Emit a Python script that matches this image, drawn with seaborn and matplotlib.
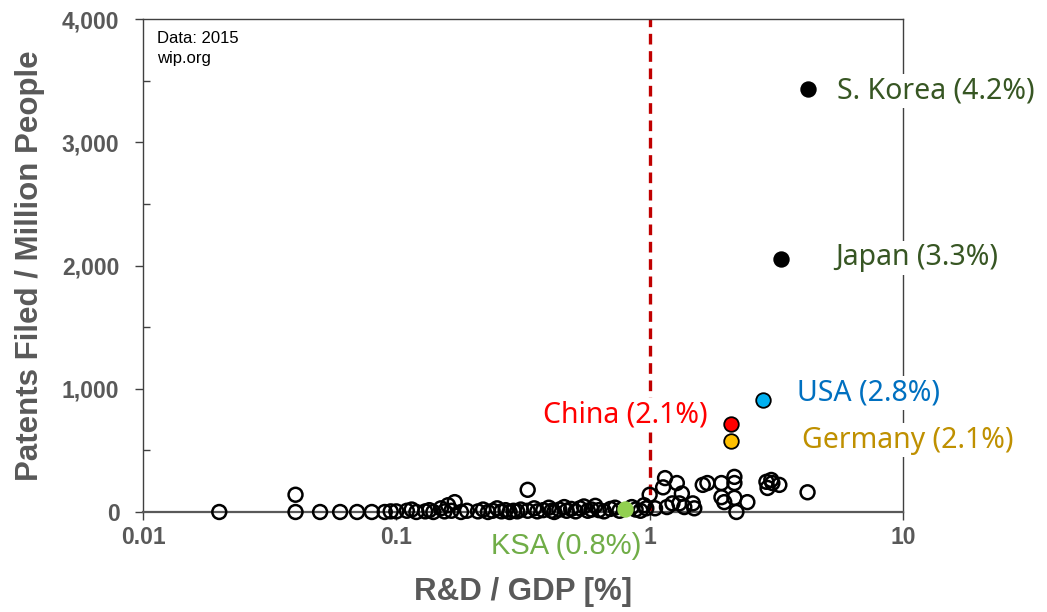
import matplotlib
matplotlib.use("Agg")
import matplotlib.pyplot as plt
import pandas as pd
import seaborn as sns
from matplotlib.ticker import FixedLocator, FuncFormatter, MultipleLocator, NullLocator

# R&D spending (% of GDP) and patents filed per million people, all other countries
other_rd = [
    0.02, 0.04, 0.04, 0.05, 0.06, 0.07, 0.08, 0.09, 0.095, 0.10, 0.11, 0.115,
    0.12, 0.13, 0.135, 0.14, 0.15, 0.155, 0.16, 0.165, 0.17, 0.18, 0.19, 0.21,
    0.22, 0.23, 0.24, 0.25, 0.26, 0.27, 0.28, 0.29, 0.30, 0.31, 0.33, 0.33,
    0.35, 0.36, 0.38, 0.40, 0.41, 0.42, 0.44, 0.46, 0.47, 0.49, 0.51, 0.53,
    0.55, 0.57, 0.59, 0.61, 0.63, 0.66, 0.70, 0.73, 0.76, 0.85, 0.88, 0.92,
    0.95, 0.97, 1.00, 1.05, 1.13, 1.15, 1.17, 1.23, 1.28, 1.31, 1.34, 1.37,
    1.48, 1.50, 1.62, 1.69, 1.92, 1.92, 1.97, 2.16, 2.16, 2.16, 2.20, 2.43,
    2.89, 2.92, 3.02, 3.05, 3.25, 4.20,
]
other_patents = [
    0, 0, 140, 0, 0, 0, 0, 0, 5, 5, 10, 20,
    0, 5, 15, 0, 30, 5, 55, 10, 80, 0, 10, 5,
    20, 0, 10, 30, 5, 15, 0, 10, 5, 20, 180, 10,
    30, 5, 15, 35, 10, 0, 20, 40, 10, 25, 5, 30,
    45, 10, 20, 50, 15, 5, 25, 35, 10, 40, 20, 10,
    55, 30, 140, 30, 200, 275, 40, 70, 235, 70, 150, 40,
    70, 30, 220, 235, 235, 120, 80, 285, 235, 115, 0, 80,
    245, 195, 260, 235, 220, 160,
]

# Highlighted countries
hl_names = ["S. Korea", "Japan", "USA", "Germany", "China", "KSA"]
hl_rd = [4.2, 3.3, 2.8, 2.1, 2.1, 0.8]
hl_patents = [3430, 2050, 910, 580, 710, 25]

x_ticks = [0.01, 0.1, 1, 10]
x_tick_labels = ["0.01", "0.1", "1", "10"]
y_ticks = [0, 1000, 2000, 3000, 4000]
threshold_rd = 1.0
source_note = "Data: 2015\nwip.org"

# Styling for highlighted countries: (dot fill, dot edge, text colour)
hl_style = {
    "S. Korea": ("black", "black", "#375623"),
    "Japan": ("black", "black", "#375623"),
    "USA": ("#00B0F0", "black", "#0070C0"),
    "Germany": ("#FFC000", "black", "#BF9000"),
    "China": ("#FF0000", "black", "#FF0000"),
    "KSA": ("#92D050", "#92D050", "#70AD47"),
}
# Label anchor (data coords) and horizontal alignment
label_place = {
    "S. Korea": (5.5, 3416, "left"),
    "Japan": (5.4, 2061, "left"),
    "USA": (3.83, 965, "left"),
    "Germany": (4.0, 584, "left"),
    "China": (1.70, 787, "right"),
    "KSA": (0.47, -276, "center"),
}

sns.set_style("ticks")
plt.rcParams["font.family"] = ["Liberation Sans", "DejaVu Sans"]

GRAY = "#595959"
fig = plt.figure(figsize=(10.47, 6.12), dpi=100)
ax = fig.add_axes([143 / 1047, 1 - 512 / 612, 760 / 1047, 493 / 612])

others = pd.DataFrame({"rd": other_rd, "patents": other_patents})
sns.scatterplot(data=others, x="rd", y="patents", ax=ax, s=100,
                facecolors="none", edgecolor="black", linewidth=1.8,
                clip_on=False, zorder=3, legend=False)

ax.axvline(threshold_rd, ymin=0, ymax=1, color="#C00000", lw=2.4,
           linestyle=(0, (3.2, 2.0)), zorder=2)

hl = pd.DataFrame({"name": hl_names, "rd": hl_rd, "patents": hl_patents})
for _, row in hl.iterrows():
    fill, edge, tcol = hl_style[row["name"]]
    sns.scatterplot(x=[row["rd"]], y=[row["patents"]], ax=ax, s=110,
                    color=fill, edgecolor=edge, linewidth=1.3,
                    clip_on=False, zorder=4, legend=False)
    tx, ty, ha = label_place[row["name"]]
    label = f"{row['name']} ({row['rd']:g}%)"
    if row["name"] == "KSA":
        ax.text(tx, ty, label, color=tcol, fontsize=21, ha=ha, va="center",
                family=["Liberation Sans Narrow", "Liberation Sans"], zorder=6)
    else:
        ax.text(tx, ty, label, color=tcol, fontsize=20.5, ha=ha, va="center",
                family=["Noto Sans", "DejaVu Sans"], zorder=6,
                bbox=dict(facecolor="white", edgecolor="none", pad=2),
                clip_on=False)

ax.text(0.019, 0.975, source_note, transform=ax.transAxes, fontsize=12,
        va="top", ha="left", linespacing=1.35, color="black")

ax.set_xscale("log")
ax.set_xlim(0.01, 10)
ax.set_ylim(0, 4000)
ax.xaxis.set_major_locator(FixedLocator(x_ticks))
ax.xaxis.set_major_formatter(FuncFormatter(lambda v, p: x_tick_labels[x_ticks.index(v)] if v in x_ticks else ""))
ax.xaxis.set_minor_locator(NullLocator())
ax.yaxis.set_major_locator(FixedLocator(y_ticks))
ax.yaxis.set_minor_locator(MultipleLocator(500))
ax.yaxis.set_major_formatter(FuncFormatter(lambda v, p: f"{int(v):,}"))

for side in ["left", "right", "top", "bottom"]:
    ax.spines[side].set_visible(True)
    ax.spines[side].set_color("#404040")
    ax.spines[side].set_linewidth(1.0)
ax.spines["bottom"].set_color("#595959")
ax.spines["bottom"].set_linewidth(1.6)
ax.spines["right"].set_zorder(1)

ax.tick_params(axis="both", which="major", direction="out", length=6,
               width=1.0, color="#404040", labelsize=16.5, labelcolor=GRAY)
ax.tick_params(axis="y", which="minor", direction="in", length=5,
               width=1.0, color="#404040")
ax.tick_params(axis="x", which="major", pad=4)
ax.tick_params(axis="y", which="major", pad=11)
for lbl in ax.get_xticklabels() + ax.get_yticklabels():
    lbl.set_fontweight("bold")

ax.set_xlabel("R&D / GDP [%]", fontsize=22.5, fontweight="bold", color=GRAY,
              labelpad=20)
ax.set_ylabel("Patents Filed / Million People", fontsize=22.5,
              fontweight="bold", color=GRAY, labelpad=12)

fig.savefig("out.png", dpi=100)
